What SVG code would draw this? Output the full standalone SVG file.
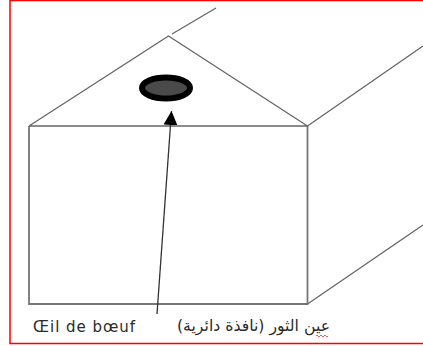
<svg xmlns="http://www.w3.org/2000/svg" width="423" height="346" viewBox="0 0 423 346">
<style>
.l{fill:none;stroke:#666;stroke-width:1.300}
.w{fill:none;stroke:#777;stroke-width:1.800}
.t{fill:#2a2a2a}
</style>
<defs><marker id="a" markerUnits="userSpaceOnUse" markerWidth="16" markerHeight="14" refX="14" refY="7" orient="auto"><path d="M0 0L14 7L0 14Z" fill="#000"/></marker></defs>
<rect width="423" height="346" fill="#fff"/>
<path d="M10 0V343.500H423M10 .5H423" fill="none" stroke="#f00" stroke-width="1.500"/>
<g id="house">
<path class="w" d="M29 126V304H307.500V126"/>
<path class="l" d="M29 126H307.500M29 126L168.500 36L307.500 126M172 34L216 8M307.500 126L423 46M307.500 304L423 225"/>
</g>
<g id="window"><ellipse cx="166" cy="88" rx="24" ry="10.500" fill="#4a4a4a" stroke="#000" stroke-width="6"/></g>
<g id="connectors"><path d="M157 314L171.500 111" fill="none" stroke="#333" stroke-width="1.300" marker-end="url(#a)"/></g>
<g id="labels">
<text class="t" x="33" y="332" font-size="15" textLength="102" lengthAdjust="spacing" font-family="'DejaVu Sans',sans-serif">Œil de bœuf</text>
<text class="t" x="330" y="331" direction="rtl" text-anchor="start" font-family="'DejaVu Sans',sans-serif" font-size="15.700">عين الثور (نافذة دائرية)</text>
<path d="M316 336q1-2 2 0t2 0t2 0t2 0t2 0t2 0" fill="none" stroke="#e33" stroke-width=".8"/>
</g>
</svg>
